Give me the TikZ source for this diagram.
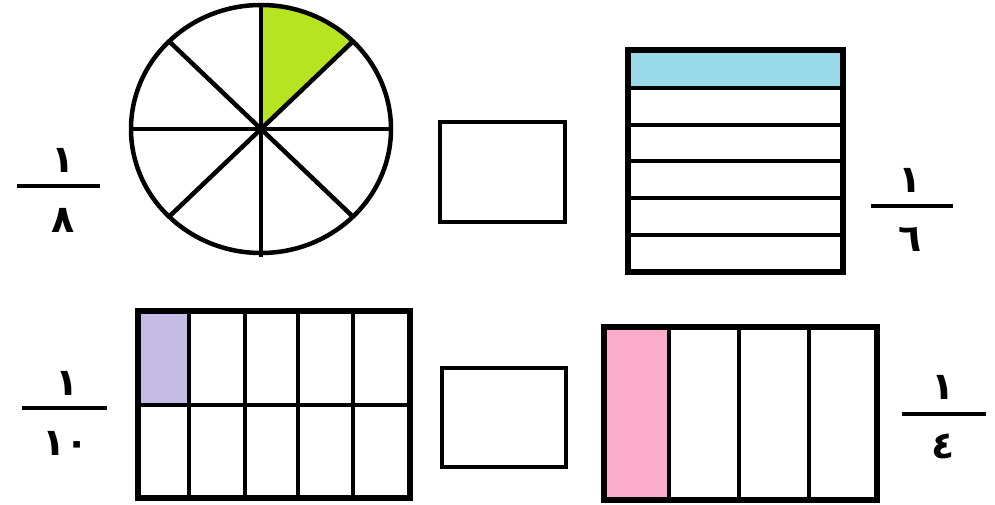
\documentclass[tikz,border=0pt]{standalone}
\usepackage{fontspec}
\usepackage{xcolor}
\usepackage{tikz}
\newfontfamily\arabicfont[Script=Arabic]{DejaVu Sans}

\definecolor{partgreen}{RGB}{183,228,32}
\definecolor{partblue}{RGB}{154,217,232}
\definecolor{partlilac}{RGB}{196,188,228}
\definecolor{partpink}{RGB}{250,172,200}

\begin{document}
\begin{tikzpicture}[
        x=0.025cm, y=0.025cm,
        digit/.style={inner sep=0pt, font=\arabicfont\bfseries\fontsize{27}{30}\selectfont},
        fracbar/.style={line width=2.2pt},
        outline/.style={line width=4pt},
        divider/.style={line width=3.4pt},
        spoke/.style={line width=3.2pt},
        answerbox/.style={line width=3.4pt}
    ]
        \useasboundingbox (0,0) rectangle (995,-505);

        % circle in eighths
        \fill[partgreen] (261,-129) -- (261,-5)
            arc[start angle=90, end angle=45, x radius=130, y radius=124] -- cycle;
        \foreach \a in {0,45,135}
            \draw[spoke] ({261+130*cos(\a)},{-129+124*sin(\a)}) -- ({261-130*cos(\a)},{-129-124*sin(\a)});
        \draw[spoke] (261,-5) -- (261,-257);
        \draw[spoke] (261,-129) ellipse [x radius=130, y radius=124];

        % rectangle in sixths
        \fill[partblue] (628,-50) rectangle (843,-88);
        \foreach \r in {88,125,161,198,235}
            \draw[divider] (628,-\r) -- (843,-\r);
        \draw[outline] (628,-50) rectangle (843,-272);

        % rectangle in tenths
        \fill[partlilac] (138,-311) rectangle (189,-405);
        \foreach \c in {189,245,298,353}
            \draw[divider] (\c,-311) -- (\c,-498);
        \draw[divider] (138,-405) -- (413,-405);
        \draw[outline] (138,-311) rectangle (410,-498);

        % rectangle in quarters
        \fill[partpink] (604,-327) rectangle (669,-500);
        \foreach \c in {669,739,809}
            \draw[divider] (\c,-327) -- (\c,-500);
        \draw[outline] (604,-327) rectangle (877,-500);

        % empty answer boxes
        \draw[answerbox] (440,-122) rectangle (565,-222);
        \draw[answerbox] (442,-368) rectangle (566,-467);

        % fractions
        \node[digit] (eighthNum) at (63,-160) {١};
        \node[digit] (eighthDen) at (63,-220) {٨};
        \draw[fracbar] (17,-186) -- (100,-186);

        \node[digit] (sixthNum) at (910,-180) {١};
        \node[digit] (sixthDen) at (910,-239) {٦};
        \draw[fracbar] (871,-206) -- (953,-206);

        \node[digit] (tenthNum) at (67,-383) {١};
        \node[digit] (tenthDen) at (66,-443) {١٠};
        \draw[fracbar] (22,-408) -- (107,-408);

        \node[digit] (quarterNum) at (943,-387) {١};
        \node[digit] (quarterDen) at (943,-446) {٤};
        \draw[fracbar] (902,-414) -- (986,-414);

    \end{tikzpicture}
\end{document}
